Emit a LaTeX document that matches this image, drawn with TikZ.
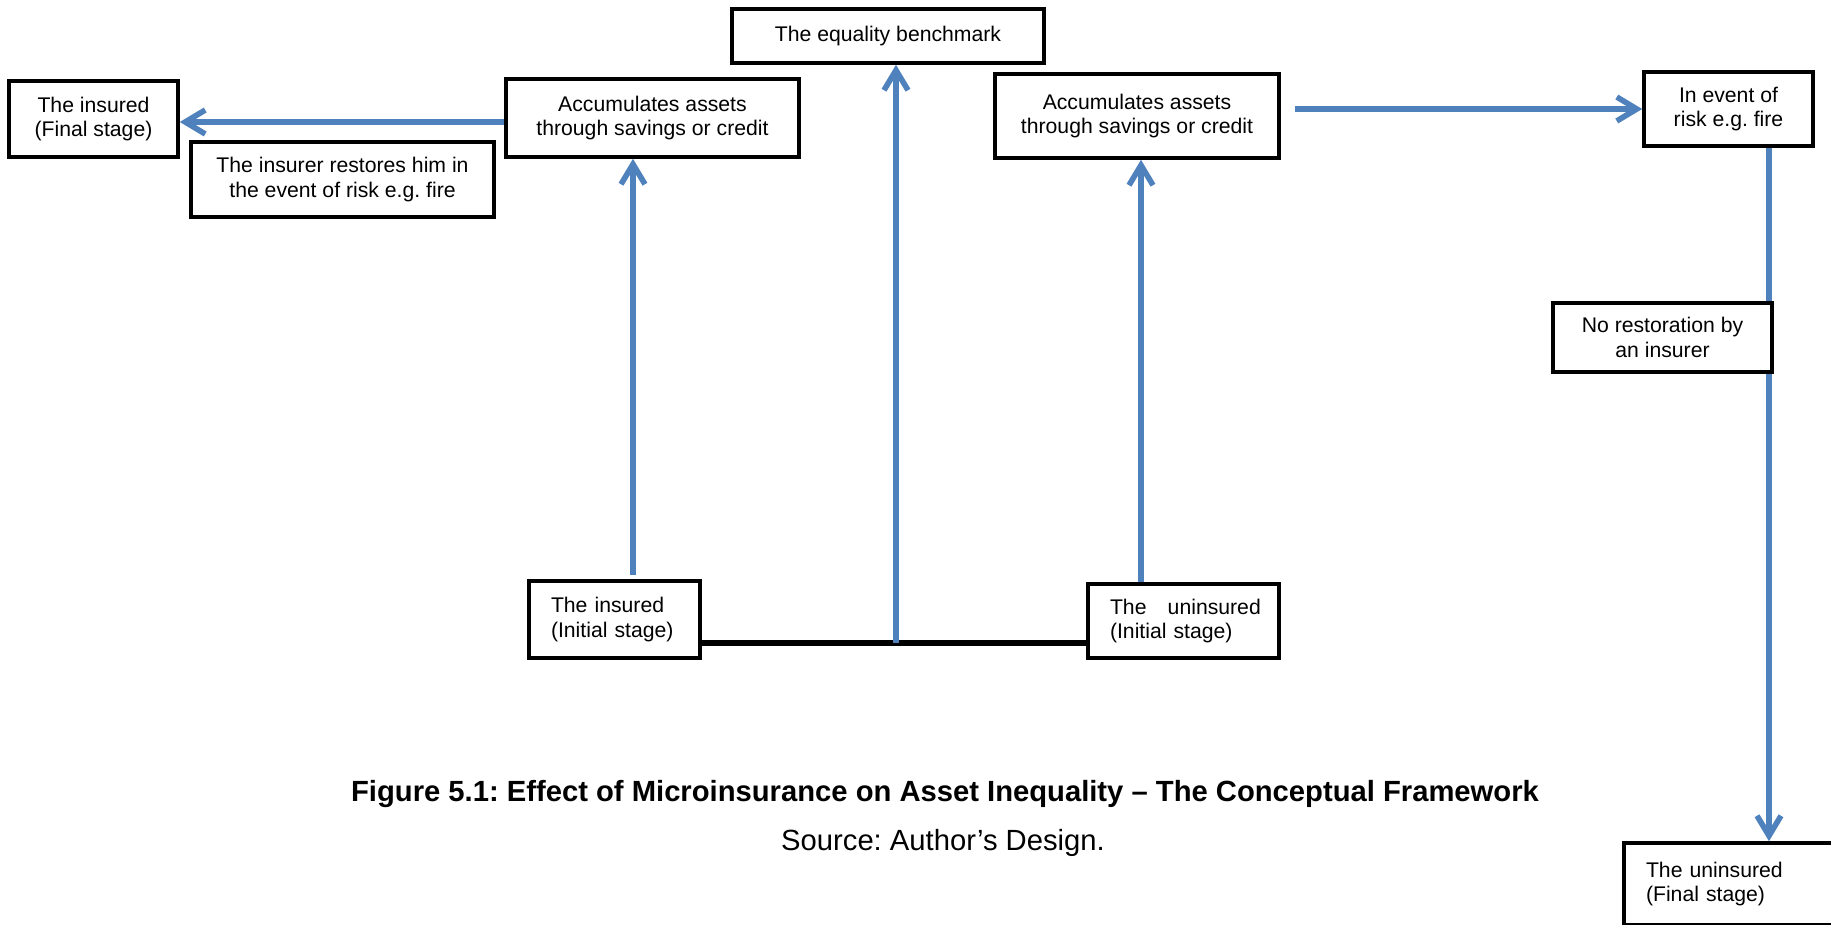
\documentclass[tikz,border=0pt]{standalone}
\usepackage{fontspec}
\setmainfont{Liberation Sans}
\usepackage{xcolor}
\definecolor{flowblue}{HTML}{4F81BD}
\usetikzlibrary{arrows.meta, positioning, backgrounds}
\frenchspacing

\begin{document}
\begin{tikzpicture}[
    x=0.5pt, y=-0.5pt,
    every node/.style={font=\fontsize{10.6}{12.3}\selectfont},
    box/.style={rectangle, draw, line width=1.8pt, fill=white,
                align=center, inner sep=0pt},
    leftbox/.style={box, align=left, inner xsep=11pt},
    flow/.style={flowblue, line width=2.8pt,
                 -{Straight Barb[length=10pt, width=12pt]}},
    link/.style={black, line width=3pt},
]
\clip (0,0) rectangle (1831,925);

% Insured branch (left)
\node[box, minimum width=84.5pt, minimum height=38pt]
    (insFinal) at (93.5,119) {The insured\\(Final stage)};
\node[box, minimum width=151.5pt, minimum height=37.5pt]
    (restores) at (342.5,179.5) {The insurer restores him in\\the event of risk e.g. fire};
\node[box, minimum width=146.5pt, minimum height=39pt]
    (accumA) at (652.5,118) {Accumulates assets\\through savings or credit};
\node[leftbox, text width=63.5pt, minimum height=38.5pt]
    (insInit) at (614.5,619.5) {The insured\\(Initial stage)};

% Benchmark
\node[box, minimum width=156pt, minimum height=27pt]
    (equality) at (888,36) {The equality benchmark};

% Uninsured branch (right)
\node[box, minimum width=142pt, minimum height=42pt]
    (accumB) at (1137,116) {Accumulates assets\\through savings or credit};
\node[box, minimum width=84.5pt, minimum height=37pt]
    (risk) at (1728.5,109) {In event of\\risk e.g. fire};
\node[box, minimum width=109.5pt, minimum height=34.5pt]
    (noRestore) at (1662.5,337.5) {No restoration by\\an insurer};
\node[leftbox, text width=73.5pt, minimum height=37pt]
    (uninsInit) at (1183.5,621) {\mbox{The~~~uninsured}\\(Initial stage)};
\node[leftbox, text width=91pt, minimum height=41pt]
    (uninsFinal) at (1737,884) {The uninsured\\(Final stage)};

% Caption
\node[font=\bfseries\fontsize{14.6}{17}\selectfont] (caption) at (945,794)
    {Figure 5.1: Effect of Microinsurance on Asset Inequality – The Conceptual Framework};
\node[font=\fontsize{14.6}{17}\selectfont] (source) at (943,843)
    {Source: Author’s Design.};

% Connectors
\begin{scope}[on background layer]
\coordinate (base) at (896,643);
\coordinate (insUp) at (633,575);
\coordinate (drop) at (1769,146);
\draw[link] (insInit.east |- base) -- (uninsInit.west |- base);
\draw[flow] (base) -- (base |- equality.south);
\draw[flow] (insUp) -- (insUp |- accumA.south);
\draw[flow] ([xshift=2pt]accumB.south |- uninsInit.north) -- ([xshift=2pt]accumB.south);
\draw[flow] ([yshift=-2pt]accumA.west) -- ([yshift=-2pt]accumA.west -| insFinal.east);
\draw[flow] ([xshift=7pt]accumB.east |- risk.west) -- (risk.west);
\draw[flow] (drop) -- (drop |- uninsFinal.north);
\end{scope}

\end{tikzpicture}
\end{document}
